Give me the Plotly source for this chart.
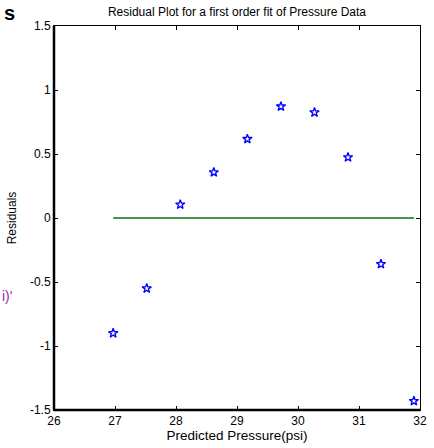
import plotly.graph_objects as go

predicted = [26.97, 27.52, 28.07, 28.62, 29.17, 29.72, 30.27, 30.82, 31.36, 31.90]
residuals = [-0.90, -0.55, 0.105, 0.357, 0.617, 0.871, 0.825, 0.474, -0.36, -1.43]
x_ticks = [26, 27, 28, 29, 30, 31, 32]
y_ticks = [-1.5, -1, -0.5, 0, 0.5, 1, 1.5]
y_tick_labels = ["-1.5", "-1", "-0.5", "0", "0.5", "1", "1.5"]

font = "Liberation Sans, Arial, sans-serif"

fig = go.Figure()
fig.add_trace(go.Scatter(
    x=[predicted[0], predicted[-1]], y=[0, 0], mode="lines",
    line=dict(color="rgb(20,110,20)", width=1.4), showlegend=False, hoverinfo="skip"))
fig.add_trace(go.Scatter(
    x=predicted, y=residuals, mode="markers",
    marker=dict(symbol="star-open", size=7, color="blue", line=dict(width=1.3, color="blue")),
    showlegend=False))

axis_common = dict(showgrid=False, zeroline=False, showline=True, linecolor="black",
                   linewidth=1, mirror="ticks", ticks="inside", ticklen=4,
                   tickcolor="black", tickfont=dict(family=font, size=12, color="black"))

fig.update_layout(
    width=434, height=448,
    margin=dict(l=54, r=7, t=26, b=37),
    paper_bgcolor="white", plot_bgcolor="white",
    font=dict(family=font, size=12, color="black"),
    title=dict(text="Residual Plot for a first order fit of Pressure Data",
               x=0.5, xref="paper", xanchor="center", y=1 - 12 / 448, yanchor="middle",
               font=dict(family=font, size=12, color="black")),
    xaxis=dict(range=[26, 32], tickvals=x_ticks, ticktext=[str(v) for v in x_ticks],
               title=dict(text="Predicted Pressure(psi)", standoff=3,
                          font=dict(family=font, size=13.5)),
               **axis_common),
    yaxis=dict(range=[-1.5, 1.5], tickvals=y_ticks, ticktext=y_tick_labels,
               title=dict(text="Residuals", standoff=10, font=dict(family=font, size=12)),
               **axis_common),
    shapes=[
        dict(type="line", xref="paper", yref="paper", x0=0, x1=0, y0=0, y1=1,
             line=dict(color="black", width=2.5)),
        dict(type="line", xref="paper", yref="paper", x0=0, x1=1, y0=0, y1=0,
             line=dict(color="black", width=2.5)),
    ],
    annotations=[
        dict(text="<b>s</b>", xref="paper", yref="paper", x=(16 - 54) / 373, y=1 + (26 - 13) / 385,
             xanchor="right", yanchor="middle", showarrow=False,
             font=dict(family=font, size=20, color="black")),
        dict(text="i)'", xref="paper", yref="paper", x=(13 - 54) / 373, y=(411 - 297) / 385,
             xanchor="right", yanchor="middle", showarrow=False,
             font=dict(family=font, size=14, color="rgb(160,40,170)")),
    ],
)

fig.write_html("out.html")
